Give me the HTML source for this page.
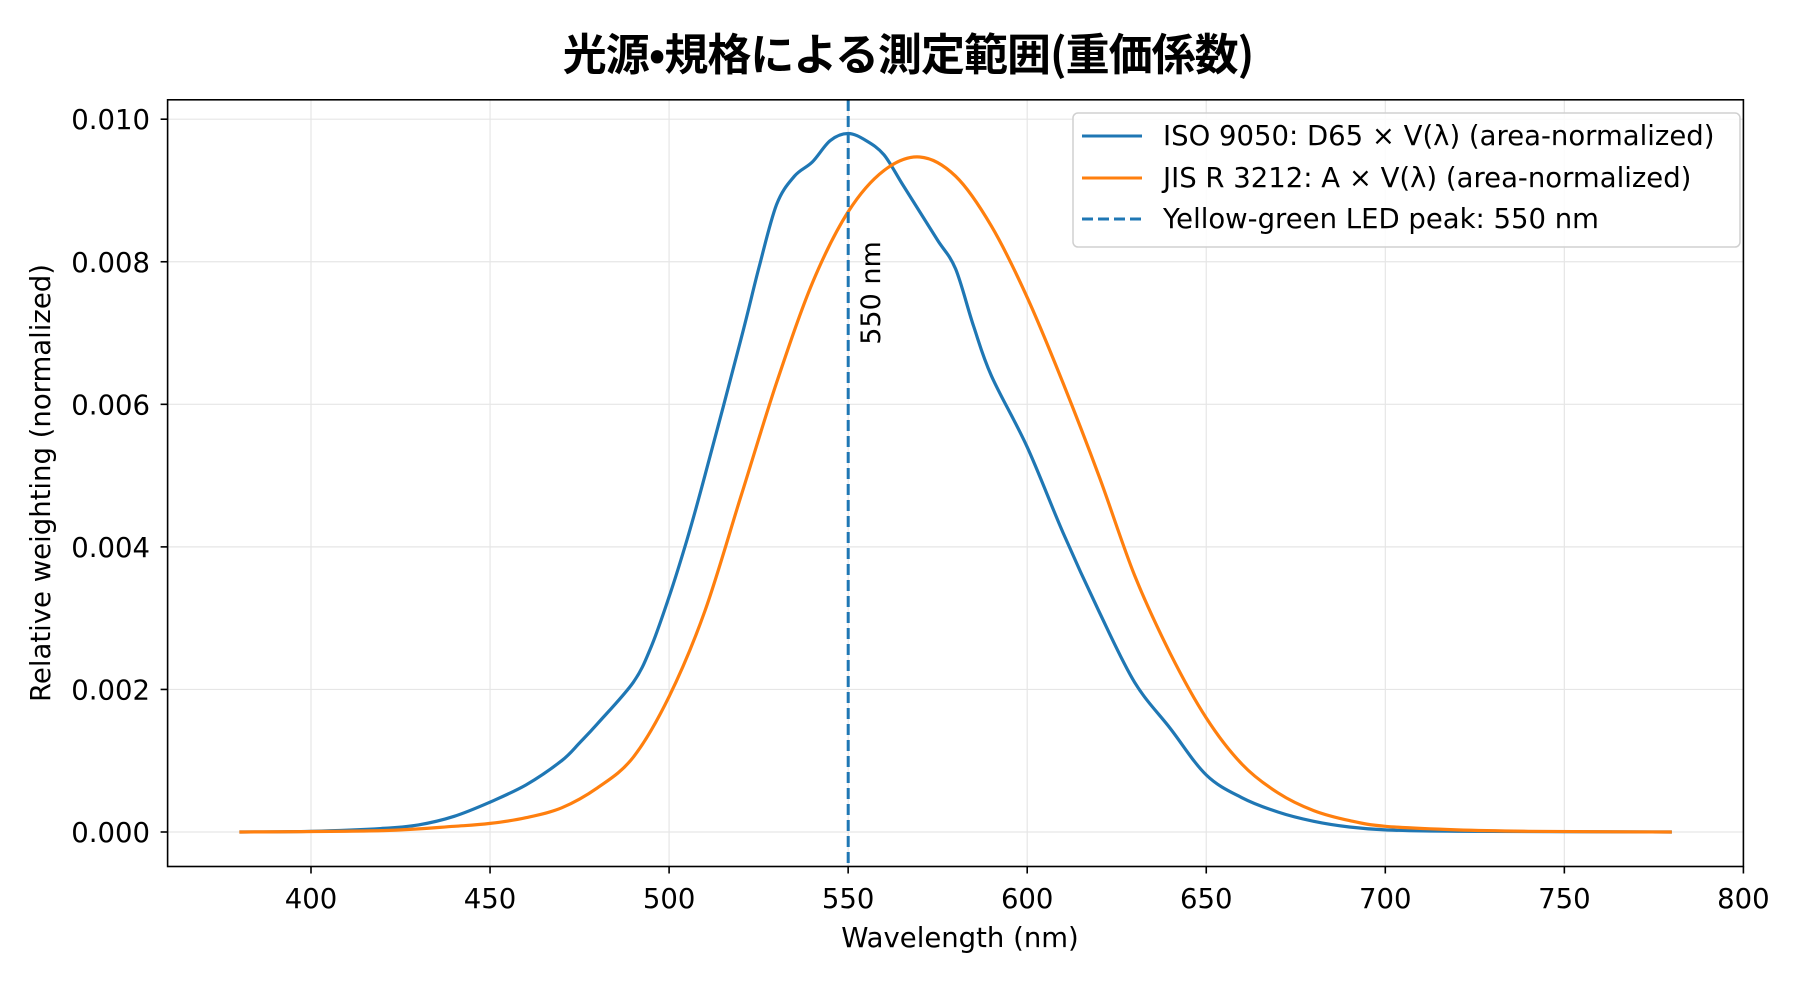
<!DOCTYPE html>
<html><head><meta charset="utf-8"><style>
html,body{margin:0;padding:0;background:#fff;}
svg{display:block;font-family:"DejaVu Sans","Liberation Sans",sans-serif;}
</style></head><body>
<svg id="s" width="1800" height="984" viewBox="0 0 1800 984" xmlns="http://www.w3.org/2000/svg">
<rect width="1800" height="984" fill="#fff"/>
<g id="grid" stroke="#e6e6e6" stroke-width="1.2"></g>
<path id="blue" fill="none" stroke="#1f77b4" stroke-width="3.2" stroke-linejoin="round"/>
<path id="orange" fill="none" stroke="#ff7f0e" stroke-width="3.2" stroke-linejoin="round"/>
<line x1="848.2" y1="100" x2="848.2" y2="866.5" stroke="#1f77b4" stroke-width="3" stroke-dasharray="11,5"/>
<text transform="translate(880,293) rotate(-90)" font-size="27" text-anchor="middle" fill="#000">550 nm</text>
<rect x="167.6" y="99.8" width="1575.8" height="766.7" fill="none" stroke="#000" stroke-width="1.6"/>
<g id="ticks" stroke="#000" stroke-width="1.6"></g>
<g id="labels" font-size="27.5" fill="#000"></g>
<text x="960" y="947" font-size="27.5" text-anchor="middle">Wavelength (nm)</text>
<text transform="translate(50,483) rotate(-90)" font-size="27.5" text-anchor="middle">Relative weighting (normalized)</text>
<text x="908" y="70" font-size="44" font-weight="bold" text-anchor="middle" font-family="'Noto Sans CJK JP','Liberation Sans',sans-serif" letter-spacing="-1">光源•規格による測定範囲(重価係数)</text>
<rect x="1073" y="113" width="667" height="134" rx="5" fill="#fff" fill-opacity="0.85" stroke="#d0d0d0" stroke-width="1.5"/>
<line x1="1082" y1="136" x2="1142" y2="136" stroke="#1f77b4" stroke-width="3"/>
<line x1="1082" y1="178" x2="1142" y2="178" stroke="#ff7f0e" stroke-width="3"/>
<line x1="1082" y1="219" x2="1142" y2="219" stroke="#1f77b4" stroke-width="3" stroke-dasharray="11,5"/>
<text x="1163" y="145" font-size="27.5">ISO 9050: D65 × V(λ) (area-normalized)</text>
<text x="1163" y="187" font-size="27.5">JIS R 3212: A × V(λ) (area-normalized)</text>
<text x="1163" y="228" font-size="27.5">Yellow-green LED peak: 550 nm</text>
</svg>
<script>
var X=function(n){return 311+(n-400)*3.581;};
var Y=function(v){return 832-v*71280;};
var g=document.getElementById('grid'),t=document.getElementById('ticks'),l=document.getElementById('labels');
var NS='http://www.w3.org/2000/svg';
function el(p,tag,a,txt){var e=document.createElementNS(NS,tag);for(var k in a)e.setAttribute(k,a[k]);if(txt)e.textContent=txt;p.appendChild(e);}
for(var n=400;n<=800;n+=50){var x=X(n);if(n<800)el(g,'line',{x1:x,x2:x,y1:100,y2:866});el(t,'line',{x1:x,x2:x,y1:866.5,y2:873.5});el(l,'text',{x:x,y:908,'text-anchor':'middle'},String(n));}
for(var i=0;i<=5;i++){var v=i*0.002,y=Y(v);el(g,'line',{x1:167.6,x2:1743.4,y1:y,y2:y});el(t,'line',{x1:160.6,x2:167.6,y1:y,y2:y});el(l,'text',{x:150,y:y+10,'text-anchor':'end'},v.toFixed(3));}
var B=[[380,0],[400,0.00001],[420,0.00005],[430,0.0001],[440,0.00022],[450,0.00042],[460,0.00066],[470,0.001],[475,0.00125],[480,0.00152],[490,0.0021],[495,0.0026],[500,0.0033],[505,0.0041],[510,0.005],[520,0.0069],[525,0.0079],[530,0.0088],[535,0.0092],[540,0.0094],[545,0.0097],[550,0.0098],[555,0.0097],[560,0.0095],[565,0.0091],[570,0.0087],[575,0.0083],[580,0.0079],[585,0.0071],[590,0.0064],[600,0.0054],[610,0.0042],[620,0.0031],[630,0.0021],[640,0.00145],[650,0.0008],[660,0.00048],[670,0.00028],[680,0.00015],[690,0.00007],[700,0.00003],[720,0.00001],[780,0]];
var O=[[380,0],[420,0.00002],[440,0.00008],[450,0.00012],[460,0.0002],[470,0.00034],[480,0.00062],[490,0.00105],[500,0.0019],[510,0.0031],[520,0.0047],[530,0.0063],[540,0.0077],[550,0.0087],[560,0.00928],[570,0.00947],[580,0.0092],[590,0.0085],[600,0.0075],[610,0.0063],[620,0.0050],[630,0.0036],[640,0.0025],[650,0.0016],[660,0.00095],[670,0.00055],[680,0.0003],[690,0.00016],[700,0.00008],[720,0.00003],[740,0.00001],[780,0]];
function d(a){var pts=[];for(var i=0;i<a.length-1;i++){var p0=a[Math.max(0,i-1)],p1=a[i],p2=a[i+1],p3=a[Math.min(a.length-1,i+2)];
var x1=X(p1[0]),y1=Y(p1[1]),x2=X(p2[0]),y2=Y(p2[1]),x0=X(p0[0]),y0=Y(p0[1]),x3=X(p3[0]),y3=Y(p3[1]);
var c1x=x1+(x2-x0)/6,c1y=y1+(y2-y0)/6,c2x=x2-(x3-x1)/6,c2y=y2-(y3-y1)/6;
if(i==0)pts.push('M'+x1.toFixed(1)+','+y1.toFixed(1));
pts.push('C'+c1x.toFixed(1)+','+c1y.toFixed(1)+' '+c2x.toFixed(1)+','+c2y.toFixed(1)+' '+x2.toFixed(1)+','+y2.toFixed(1));}
return pts.join('');}
document.getElementById('blue').setAttribute('d',d(B));
document.getElementById('orange').setAttribute('d',d(O));
</script>
</body></html>
